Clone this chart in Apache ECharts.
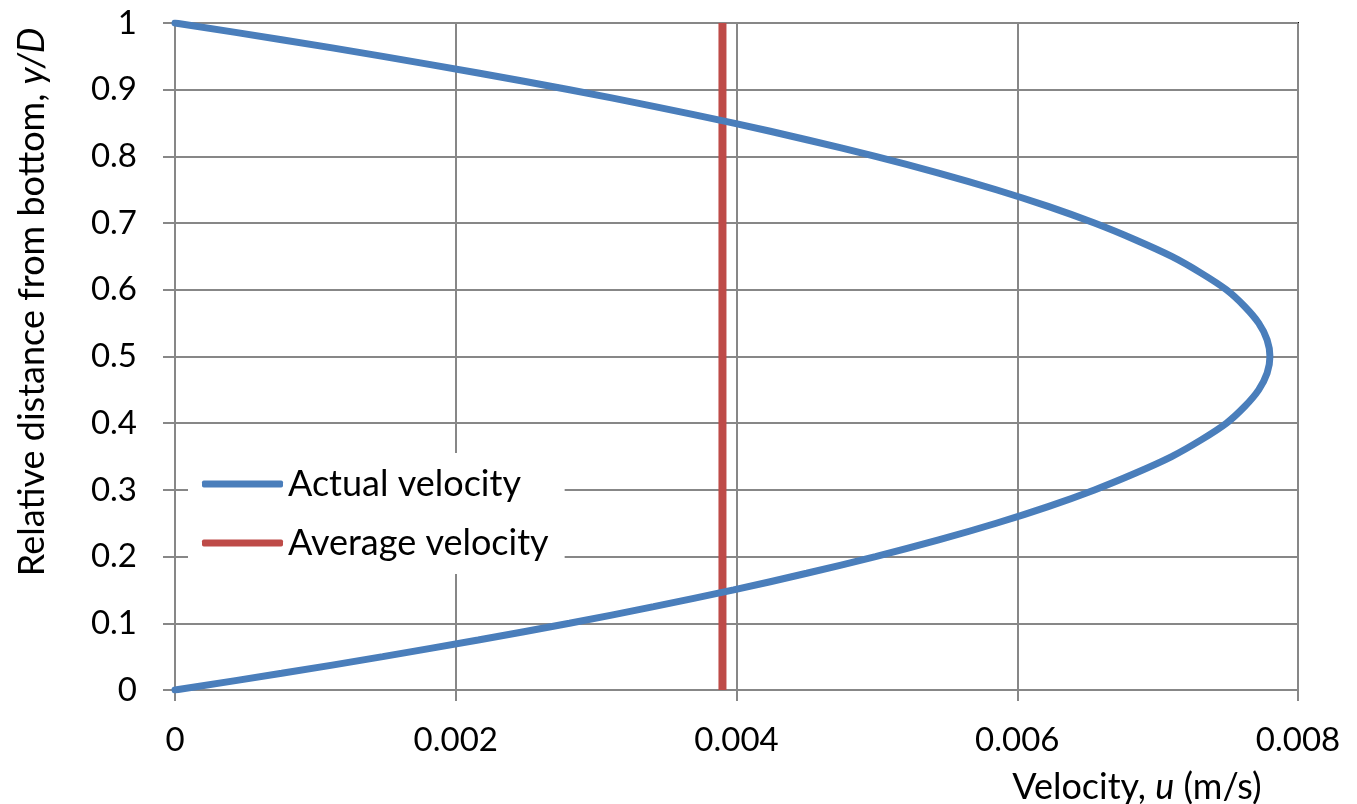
<!DOCTYPE html>
<html>
<head>
<meta charset="utf-8">
<script src="https://cdn.jsdelivr.net/npm/echarts@6/dist/echarts.min.js"></script>
<style>
html,body{margin:0;padding:0;background:#fff;}
#chart{width:1357px;height:804px;}
</style>
</head>
<body>
<div id="chart"></div>
<script>
// Relative distance from bottom (y/D)
const yRel = [0,0.025,0.05,0.075,0.1,0.125,0.15,0.175,0.2,0.225,0.25,0.275,0.3,0.325,0.35,0.375,0.4,0.425,0.45,0.475,0.5,
  0.525,0.55,0.575,0.6,0.625,0.65,0.675,0.7,0.725,0.75,0.775,0.8,0.825,0.85,0.875,0.9,0.925,0.95,0.975,1];
// Actual velocity u (m/s)
const actualU = [0,0.00076,0.00148,0.00216,0.00281,0.00341,0.00398,0.00450,0.00499,0.00544,0.00585,0.00622,0.00655,0.00684,0.00710,0.00731,0.00749,0.00762,0.00772,0.00778,0.0078,
  0.00778,0.00772,0.00762,0.00749,0.00731,0.00710,0.00684,0.00655,0.00622,0.00585,0.00544,0.00499,0.00450,0.00398,0.00341,0.00281,0.00216,0.00148,0.00076,0];
// Average velocity (vertical line)
const avgU = [0.0039,0.0039];
const avgY = [0,1];

const seriesNames = ['Actual velocity','Average velocity'];
const FONT = 'Lato, "Open Sans", sans-serif';
const FS = 33;
const FT = 36;

const chart = echarts.init(document.getElementById('chart'));
chart.setOption({
  animation:false,
  backgroundColor:'#fff',
  grid:{left:175,right:59,top:23,bottom:114,show:true,borderColor:'#000',borderWidth:2,backgroundColor:'transparent'},
  xAxis:{
    type:'value',min:0,max:0.008,interval:0.002,
    axisLine:{show:true,lineStyle:{color:'#878787',width:2}},
    axisTick:{show:true,length:11,lineStyle:{color:'#878787',width:2}},
    splitLine:{show:true,lineStyle:{color:'#878787',width:2}},
    axisLabel:{color:'#000',fontFamily:FONT,fontSize:FS,margin:34}
  },
  yAxis:{
    type:'value',min:0,max:1,interval:0.1,
    axisLine:{show:true,lineStyle:{color:'#878787',width:2}},
    axisTick:{show:true,length:12,lineStyle:{color:'#878787',width:2}},
    splitLine:{show:true,lineStyle:{color:'#878787',width:2}},
    axisLabel:{color:'#000',fontFamily:FONT,fontSize:FS,margin:38}
  },
  legend:{
    orient:'vertical',left:188,top:453,
    backgroundColor:'#fff',padding:[13,16,13,14],
    itemWidth:81,itemHeight:7,itemGap:23,
    icon:'roundRect',
    textStyle:{color:'#000',fontFamily:FONT,fontSize:FT,lineHeight:36},
    data:seriesNames
  },
  series:[
    {name:seriesNames[0],type:'line',showSymbol:false,symbol:'none',smooth:0.3,
     data:actualU.map((u,i)=>[u,yRel[i]]),
     lineStyle:{color:'#4A7EBB',width:7,cap:'round'},itemStyle:{color:'#4A7EBB'},z:3},
    {name:seriesNames[1],type:'line',showSymbol:false,symbol:'none',
     data:avgU.map((u,i)=>[u,avgY[i]]),
     lineStyle:{color:'#BE4B48',width:8},itemStyle:{color:'#BE4B48'},z:2}
  ],
  graphic:[
    {type:'text',x:32,y:302,rotation:Math.PI/2,
     style:{text:'Relative distance from bottom, {i|y/D}',fill:'#000',font:FT+'px '+FONT,
       textAlign:'center',textVerticalAlign:'middle',
       rich:{i:{fontStyle:'italic',fontSize:FT,fontFamily:FONT,fill:'#000'}}}},
    {type:'text',x:1137,y:787,
     style:{text:'Velocity, {i|u} (m/s)',fill:'#000',font:FT+'px '+FONT,
       textAlign:'center',textVerticalAlign:'middle',
       rich:{i:{fontStyle:'italic',fontSize:FT,fontFamily:FONT,fill:'#000'}}}}
  ]
});
</script>
</body>
</html>
